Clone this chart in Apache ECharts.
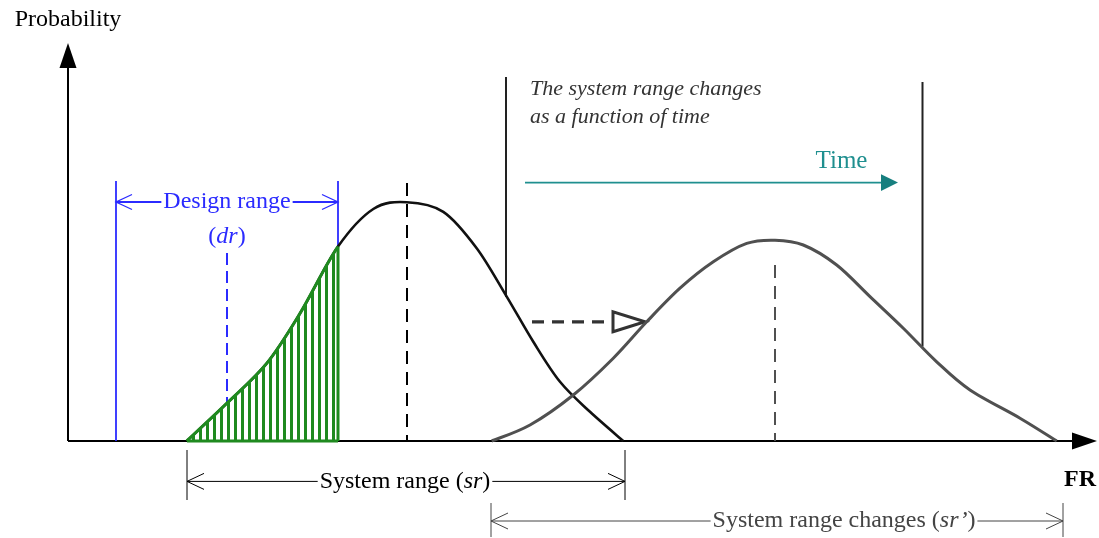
<!DOCTYPE html>
<html><head><meta charset="utf-8">
<script src="https://cdn.jsdelivr.net/npm/echarts@6/dist/echarts.min.js"></script>
<style>html,body{margin:0;padding:0;background:#fff}#c{width:1099px;height:538px}</style>
</head><body><div id="c"></div>
<script>
// ---- data (x: FR units, y: probability units) ----
const systemRangeCurve = [[11.87,0],[15.87,9.4],[19.87,19.4],[23.2,31.9],[27.0,48.6],[30.53,58],[33.87,59.7],[37.53,57.3],[40.87,48.2],[43.87,36.1],[46.53,24.8],[49.2,14.8],[52.2,7.3],[55.53,0]];
const changedRangeCurve = [[42.37,0],[46.2,4],[50.53,11.5],[54.53,20.7],[57.87,29.8],[61.2,38.2],[64.53,44.8],[67.87,49.4],[70.7,50.2],[73.53,49],[76.87,44],[80.2,36.1],[83.53,28.2],[86.87,19.8],[90.2,12.75],[95.2,5.7],[98.87,0]];
const designRange = [4.8, 27.0];
const designTarget = 15.9;
const systemRange = [11.9, 55.7];
const systemMean = 33.9;
const changedRange = [42.3, 99.5];
const changedMean = 70.7;
const timeWindow = [43.8, 85.45];
const labels = ['Probability','Design range','dr','The system range changes','as a function of time','Time','System range','sr','System range changes','sr\u2019','FR'];

// ---- helpers ----
const SERIF = "'Liberation Serif','Times New Roman',serif";
function segSeries(data, style, z) {
  return {type:'custom', data, z: z || 3, silent:true, clip:false,
    renderItem(p, api) {
      const a = api.coord([api.value(0), api.value(1)]);
      const b = api.coord([api.value(2), api.value(3)]);
      return {type:'line', shape:{x1:a[0],y1:a[1],x2:b[0],y2:b[1]}, style:Object.assign({fill:null}, style)};
    }};
}
// data: [tipX, tipY, screenDirX, screenDirY]
function headSeries(data, kind, len, half, style, z) {
  return {type:'custom', data, z: z || 4, silent:true, clip:false,
    renderItem(p, api) {
      const t = api.coord([api.value(0), api.value(1)]);
      const dx = api.value(2), dy = api.value(3);
      const bx = t[0] - dx*len, by = t[1] - dy*len;
      const px = -dy*half, py = dx*half;
      const pts = [[bx+px, by+py], t, [bx-px, by-py]];
      if (kind === 'open') return {type:'polyline', shape:{points:pts}, style:Object.assign({fill:null}, style)};
      return {type:'polygon', shape:{points:pts}, style:style};
    }};
}
function textSeries(x, y, text, style, z) {
  return {type:'custom', data:[[x, y]], z: z || 6, silent:true, clip:false,
    renderItem(p, api) {
      const c = api.coord([api.value(0), api.value(1)]);
      return {type:'text', x:c[0], y:c[1], style:Object.assign({text, fontFamily:SERIF, align:'center', verticalAlign:'middle'}, style)};
    }};
}
// Catmull-Rom spline through screen points, segments [from, to)
function splineD(s, from, to) {
  let d = 'M' + s[from][0] + ',' + s[from][1];
  for (let i = from; i < to; i++) {
    const p0 = s[Math.max(i-1,0)], p1 = s[i], p2 = s[i+1], p3 = s[Math.min(i+2, s.length-1)];
    const c1 = [p1[0] + (p2[0]-p0[0])/6, p1[1] + (p2[1]-p0[1])/6];
    const c2 = [p2[0] - (p3[0]-p1[0])/6, p2[1] - (p3[1]-p1[1])/6];
    d += ' C' + c1[0] + ',' + c1[1] + ' ' + c2[0] + ',' + c2[1] + ' ' + p2[0] + ',' + p2[1];
  }
  return d;
}
function curveSeries(points, segEnd, style, z, fillBase) {
  return {type:'custom', data:[points[0]], z, silent:true, clip:false,
    renderItem(p, api) {
      const s = points.map(q => api.coord(q));
      let d = splineD(s, 0, segEnd);
      if (fillBase) {
        const b0 = api.coord([points[segEnd][0], 0]), b1 = api.coord([points[0][0], 0]);
        d += ' L' + b0[0] + ',' + b0[1] + ' L' + b1[0] + ',' + b1[1] + ' Z';
      }
      return {type:'path', shape:{pathData:d}, style:Object.assign({fill:null}, style)};
    }};
}

// hatching pattern
const pc = document.createElement('canvas'); pc.width = 7; pc.height = 4;
const pctx = pc.getContext('2d'); pctx.fillStyle = '#1f8a1f'; pctx.fillRect(3, 0, 3, 4);

const green = '#1f8a1f', blue = '#2b2bff', teal = '#1f8f8f', grey = '#505050';
const greenEnd = systemRangeCurve.findIndex(d => d[0] >= designRange[1]);
const greenTop = systemRangeCurve[greenEnd][1];

const chart = echarts.init(document.getElementById('c'));
const option = {
  animation:false, backgroundColor:'#fff',
  grid:{left:68, top:1, width:1030, height:536},
  xAxis:{type:'value', min:0, max:103, show:false},
  yAxis:{type:'value', min:-24, max:110, show:false},
  series:[
    // axes
    segSeries([[0,0,0,96],[0,0,101,0]], {stroke:'#000', lineWidth:2}, 2),
    headSeries([[0,99.5,0,-1],[102.9,0,1,0]], 'fill', 25, 8.5, {fill:'#000'}, 4),
    // curves
    curveSeries(systemRangeCurve, systemRangeCurve.length-1, {stroke:'#111', lineWidth:2.6}, 5),
    curveSeries(changedRangeCurve, changedRangeCurve.length-1, {stroke:grey, lineWidth:3}, 5),
    curveSeries(systemRangeCurve, greenEnd, {fill:{image:pc, repeat:'repeat'}, stroke:null}, 6, true),
    curveSeries(systemRangeCurve, greenEnd, {stroke:green, lineWidth:3}, 7),
    segSeries([[designRange[1],greenTop,designRange[1],0],[systemRange[0],0,designRange[1],0]], {stroke:green, lineWidth:3}, 7),
    // design range
    segSeries([[designRange[0],0,designRange[0],65],[designRange[1],greenTop,designRange[1],65],[designRange[0],59.75,designRange[1],59.75]], {stroke:blue, lineWidth:1.8}, 4),
    headSeries([[designRange[0],59.75,-1,0],[designRange[1],59.75,1,0]], 'open', 16, 7.5, {stroke:blue, lineWidth:1.3}, 4),
    segSeries([[designTarget,47,designTarget,9.5]], {stroke:blue, lineWidth:2, lineDash:[12,6]}, 4),
    // means
    segSeries([[systemMean,64.5,systemMean,0]], {stroke:'#000', lineWidth:2, lineDash:[13,8]}, 4),
    segSeries([[changedMean,44,changedMean,0]], {stroke:grey, lineWidth:2, lineDash:[13,8]}, 4),
    // time window
    segSeries([[timeWindow[0],91,timeWindow[0],36],[timeWindow[1],89.75,timeWindow[1],23.6]], {stroke:'#222', lineWidth:2}, 4),
    segSeries([[45.7,64.6,81.5,64.6]], {stroke:teal, lineWidth:1.6}, 4),
    headSeries([[83.0,64.6,1,0]], 'fill', 17, 8.3, {fill:'#177f7f'}, 4),
    // shift arrow
    segSeries([[46.4,29.8,53.9,29.8]], {stroke:'#333', lineWidth:3.2, lineDash:[12,8]}, 4),
    headSeries([[57.7,29.8,1,0]], 'tri', 32, 10, {fill:'#fff', stroke:'#333', lineWidth:3}, 4),
    // dimension lines
    segSeries([[systemRange[0],-2.25,systemRange[0],-14.75],[systemRange[1],-2.25,systemRange[1],-14.75],[systemRange[0],-10.1,systemRange[1],-10.1]], {stroke:'#000', lineWidth:1}, 4),
    headSeries([[systemRange[0],-10.1,-1,0],[systemRange[1],-10.1,1,0]], 'open', 17, 8, {stroke:'#000', lineWidth:1}, 4),
    segSeries([[changedRange[0],-15.5,changedRange[0],-24],[changedRange[1],-15.5,changedRange[1],-24],[changedRange[0],-20,changedRange[1],-20]], {stroke:'#444', lineWidth:1}, 4),
    headSeries([[changedRange[0],-20,-1,0],[changedRange[1],-20,1,0]], 'open', 17, 8, {stroke:'#444', lineWidth:1}, 4),
    // texts
    textSeries(0, 105.25, labels[0], {fill:'#000', fontSize:24}),
    textSeries(designTarget, 59.75, labels[1], {fill:blue, fontSize:24, backgroundColor:'#fff', padding:[0,2]}),
    textSeries(designTarget, 51, '{n|(}{i|'+labels[2]+'}{n|)}', {fill:blue, fontSize:24, rich:{n:{fill:blue, fontSize:24, fontFamily:SERIF}, i:{fill:blue, fontSize:24, fontStyle:'italic', fontFamily:SERIF}}}),
    textSeries(46.2, 88, labels[3], {fill:'#333', fontSize:22, fontStyle:'italic', align:'left'}),
    textSeries(46.2, 81, labels[4], {fill:'#333', fontSize:22, fontStyle:'italic', align:'left'}),
    textSeries(77.35, 70, labels[5], {fill:teal, fontSize:25}),
    textSeries(33.7, -10.1, '{n|'+labels[6]+' (}{i|'+labels[7]+'}{n|)}', {fill:'#000', fontSize:24, backgroundColor:'#fff', padding:[0,2], rich:{n:{fill:'#000', fontSize:24, fontFamily:SERIF}, i:{fill:'#000', fontSize:24, fontStyle:'italic', fontFamily:SERIF}}}),
    textSeries(77.6, -20, '{n|'+labels[8]+' (}{i|'+labels[9]+'}{n|)}', {fill:'#444', fontSize:24, backgroundColor:'#fff', padding:[0,2], rich:{n:{fill:'#444', fontSize:24, fontFamily:SERIF}, i:{fill:'#444', fontSize:24, fontStyle:'italic', fontFamily:SERIF}}}),
    textSeries(101.2, -9.75, labels[10], {fill:'#000', fontSize:24, fontWeight:'bold'})
  ]
};
chart.setOption(option);
</script></body></html>
